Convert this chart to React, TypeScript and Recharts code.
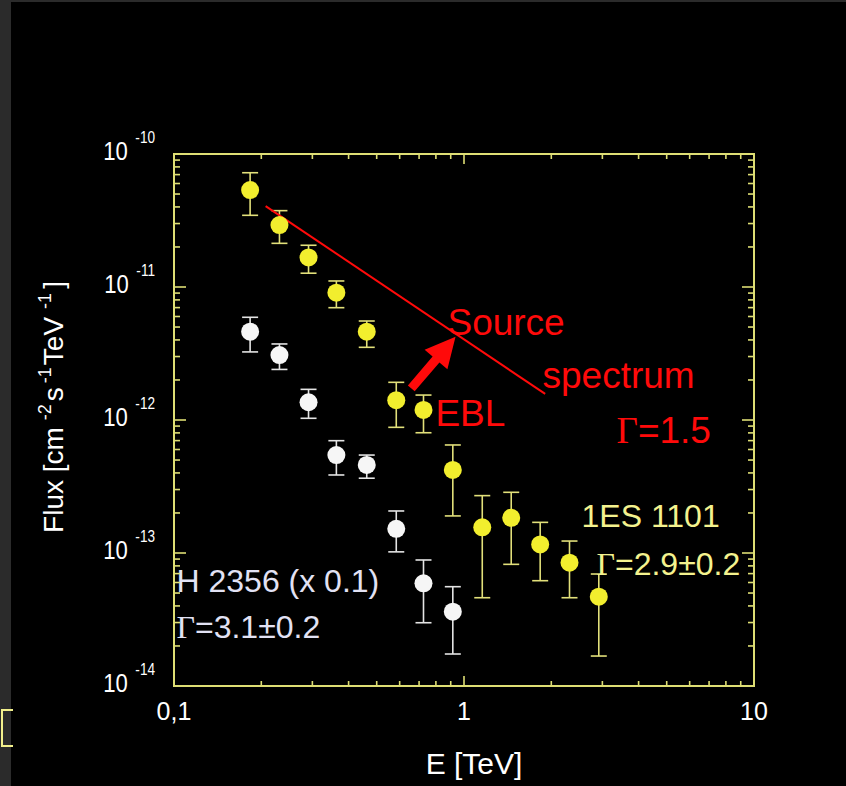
import { ScatterChart, Scatter, XAxis, YAxis, ErrorBar, ReferenceLine, ReferenceDot, ReferenceArea } from 'recharts'

// 1ES 1101 spectrum
const energy1ES = [0.183, 0.231, 0.291, 0.363, 0.462, 0.584, 0.725, 0.915, 1.156, 1.455, 1.831, 2.311, 2.916]
const flux1ES = [5.36e-11, 2.92e-11, 1.67e-11, 9.06e-12, 4.61e-12, 1.41e-12, 1.19e-12, 4.21e-13, 1.56e-13, 1.84e-13, 1.16e-13, 8.45e-14, 4.69e-14]
const flux1ESHi = [7.23e-11, 3.75e-11, 2.06e-11, 1.11e-11, 5.55e-12, 1.92e-12, 1.54e-12, 6.49e-13, 2.7e-13, 2.86e-13, 1.7e-13, 1.23e-13, 6.95e-14]
const flux1ESLo = [3.46e-11, 2.13e-11, 1.27e-11, 6.99e-12, 3.52e-12, 8.81e-13, 8.02e-13, 1.9e-13, 4.61e-14, 8.22e-14, 6.19e-14, 4.61e-14, 1.68e-14]

// H 2356 spectrum (x 0.1)
const energyH = [0.183, 0.231, 0.291, 0.363, 0.462, 0.584, 0.725, 0.915]
const fluxH = [4.61e-12, 3.08e-12, 1.36e-12, 5.45e-13, 4.59e-13, 1.52e-13, 5.92e-14, 3.62e-14]
const fluxHHi = [5.92e-12, 3.73e-12, 1.7e-12, 6.99e-13, 5.45e-13, 2.07e-13, 8.86e-14, 5.58e-14]
const fluxHLo = [3.25e-12, 2.4e-12, 1.03e-12, 3.86e-13, 3.65e-13, 1.02e-13, 2.99e-14, 1.74e-14]

// source spectrum (Gamma = 1.5) and EBL arrow, start/end
const sourceE = [0.207, 1.905]
const sourceF = [4.06e-11, 1.57e-12]
const eblE = [0.658, 0.935]
const eblF = [1.73e-12, 4.23e-12]

// text annotations (left end of baseline)
const redNotes = [
  { text: 'Source', e: 0.877, f: 4.36e-12 },
  { text: 'spectrum', e: 1.865, f: 1.74e-12 },
  { text: 'EBL', e: 0.797, f: 9.01e-13 },
  { text: '=1.5', gamma: true, e: 3.357, f: 6.72e-13 },
]
const yellowNotes = [
  { text: '1ES 1101', e: 2.542, f: 1.57e-13 },
  { text: '=2.9±0.2', gamma: true, e: 2.863, f: 6.83e-14 },
]
const whiteNotes = [
  { text: 'H 2356 (x 0.1)', e: 0.102, f: 5.09e-14 },
  { text: '=3.1±0.2', gamma: true, e: 0.102, f: 2.3e-14 },
]

const xTicks = [0.1, 0.2, 0.3, 0.4, 0.5, 0.6, 0.7, 0.8, 0.9, 1, 2, 3, 4, 5, 6, 7, 8, 9, 10]
const xTickLabels: Record<string, string> = { '0.1': '0,1', '1': '1', '10': '10' }
const yDecades = [-14, -13, -12, -11]
const yTicks = [...yDecades.flatMap((d) => [1, 2, 3, 4, 5, 6, 7, 8, 9].map((m) => m * Math.pow(10, d))), 1e-10]

const AXIS = '#dede74'
const YELLOW = '#f2ee2e'
const WHITE = '#f6f6f6'
const RED = '#ff0a0a'
const SANS = "'Liberation Sans', Arial, sans-serif"
const SERIF = "'Liberation Serif', 'Times New Roman', serif"
const PLOT_W = 580
const PLOT_H = 532

const data1ES = energy1ES.map((e, i) => ({ e, f: flux1ES[i], err: [flux1ES[i] - flux1ESLo[i], flux1ESHi[i] - flux1ES[i]] }))
const dataH = energyH.map((e, i) => ({ e, f: fluxH[i], err: [fluxH[i] - fluxHLo[i], fluxHHi[i] - fluxH[i]] }))

const isDecade = (v: number) => Math.abs(Math.log10(v) - Math.round(Math.log10(v))) < 1e-6

const XTick = (props: any) => {
  const { x, y, payload } = props
  const v = payload.value
  const major = isDecade(v)
  const len = major ? 10 : 5
  return (
    <g>
      <line x1={x} y1={y} x2={x} y2={y - len} stroke={AXIS} strokeWidth={1.6} />
      <line x1={x} y1={y - PLOT_H} x2={x} y2={y - PLOT_H + len} stroke={AXIS} strokeWidth={1.6} />
      {major && (
        <text x={x} y={y + 34} textAnchor="middle" fill="#fff" fontSize={25} fontFamily={SANS}>
          {xTickLabels[String(v)]}
        </text>
      )}
    </g>
  )
}

const YTick = (props: any) => {
  const { x, y, payload } = props
  const v = payload.value
  const major = isDecade(v)
  const len = major ? 12 : 6
  return (
    <g>
      <line x1={x} y1={y} x2={x + len} y2={y} stroke={AXIS} strokeWidth={1.6} />
      <line x1={x + PLOT_W} y1={y} x2={x + PLOT_W - len} y2={y} stroke={AXIS} strokeWidth={1.6} />
      {major && (
        <g transform={`translate(${x - 19},${y + 6}) scale(0.85,1)`}>
          <text x={0} y={0} textAnchor="end" fill="#fff" fontSize={26} fontFamily={SANS}>
            10
            <tspan dx={9} dy={-17} fontSize={16}>
              {String(Math.round(Math.log10(v)))}
            </tspan>
          </text>
        </g>
      )}
    </g>
  )
}

const Note = ({ cx, cy, text, gamma, color, size }: any) => (
  <text x={cx} y={cy} fill={color} fontSize={size} fontFamily={SANS}>
    {gamma && <tspan fontFamily={SERIF}>Γ</tspan>}
    {text}
  </text>
)

const Arrow = ({ x1, y1, x2, y2 }: any) => {
  const dx = x2 - x1
  const dy = y2 - y1
  const L = Math.hypot(dx, dy)
  const ux = dx / L
  const uy = dy / L
  const nx = -uy
  const ny = ux
  const head = 30
  const hw = 15
  const sw = 4.5
  const bx = x2 - ux * head
  const by = y2 - uy * head
  const pts = [
    [x1 + nx * sw, y1 + ny * sw],
    [bx + nx * sw, by + ny * sw],
    [bx + nx * hw, by + ny * hw],
    [x2, y2],
    [bx - nx * hw, by - ny * hw],
    [bx - nx * sw, by - ny * sw],
    [x1 - nx * sw, y1 - ny * sw],
  ]
  return <polygon points={pts.map((p) => p.join(',')).join(' ')} fill={RED} />
}

const YLabel = (props: any) => {
  const { viewBox } = props
  const cx = viewBox.x + 63
  const cy = viewBox.y + viewBox.height / 2 - 13
  return (
    <text x={cx} y={cy} transform={`rotate(-90 ${cx} ${cy})`} textAnchor="middle" fill="#fff" fontSize={28} fontFamily={SANS}>
      Flux [cm
      <tspan dx={7} dy={-12} fontSize={18}>-2</tspan>
      <tspan dx={3} dy={12}>s</tspan>
      <tspan dx={4} dy={-12} fontSize={18}>-1</tspan>
      <tspan dx={2} dy={12}>TeV</tspan>
      <tspan dx={8} dy={-12} fontSize={18}>-1</tspan>
      <tspan dx={4} dy={12}>]</tspan>
    </text>
  )
}

const XLabel = (props: any) => {
  const { viewBox } = props
  return (
    <text x={viewBox.x + viewBox.width / 2 + 10} y={viewBox.y + 88} textAnchor="middle" fill="#fff" fontSize={30} fontFamily={SANS}>
      E [TeV]
    </text>
  )
}

export default function App() {
  return (
    <div style={{ position: 'absolute', left: 0, top: 0, width: 846, height: 786, background: '#2b2b2b' }}>
      <div style={{ position: 'absolute', left: 11, top: 2, width: 835, height: 784, background: '#000' }} />
      <div
        style={{
          position: 'absolute',
          left: 1,
          top: 709,
          width: 10,
          height: 34,
          border: '2px solid #f2f08c',
          borderRight: 'none',
        }}
      />
      <div style={{ position: 'absolute', left: 0, top: 0 }}>
        <ScatterChart width={846} height={786} margin={{ top: 154, right: 92, bottom: 0, left: 0 }}>
          <XAxis
            dataKey="e"
            type="number"
            scale="log"
            domain={[0.1, 10]}
            allowDataOverflow
            ticks={xTicks}
            interval={0}
            height={100}
            tickSize={0}
            tickMargin={0}
            tickLine={false}
            axisLine={{ stroke: AXIS, strokeWidth: 2 }}
            tick={XTick}
            label={XLabel}
          />
          <YAxis
            dataKey="f"
            type="number"
            scale="log"
            domain={[1e-14, 1e-10]}
            allowDataOverflow
            ticks={yTicks}
            interval={0}
            width={174}
            tickSize={0}
            tickMargin={0}
            tickLine={false}
            axisLine={{ stroke: AXIS, strokeWidth: 2 }}
            tick={YTick}
            label={YLabel}
          />
          <ReferenceArea x1={0.1} x2={10} y1={1e-14} y2={1e-10} fill="none" stroke={AXIS} strokeWidth={2} />
          <Scatter
            data={dataH}
            fill={WHITE}
            isAnimationActive={false}
            shape={(p: any) => <circle cx={p.cx} cy={p.cy} r={9} fill={WHITE} />}
          >
            <ErrorBar dataKey="err" direction="y" width={8} stroke="#e4e4e4" strokeWidth={1.6} />
          </Scatter>
          <Scatter
            data={data1ES}
            fill={YELLOW}
            isAnimationActive={false}
            shape={(p: any) => <circle cx={p.cx} cy={p.cy} r={9} fill={YELLOW} />}
          >
            <ErrorBar dataKey="err" direction="y" width={8} stroke="#e2e07a" strokeWidth={1.6} />
          </Scatter>
          <ReferenceLine
            segment={[
              { x: sourceE[0], y: sourceF[0] },
              { x: sourceE[1], y: sourceF[1] },
            ]}
            stroke={RED}
            strokeWidth={2}
          />
          <ReferenceLine
            segment={[
              { x: eblE[0], y: eblF[0] },
              { x: eblE[1], y: eblF[1] },
            ]}
            shape={Arrow}
          />
          {redNotes.map((n) => (
            <ReferenceDot key={n.text} x={n.e} y={n.f} r={0} shape={(p: any) => <Note {...p} text={n.text} gamma={n.gamma} color={RED} size={37} />} />
          ))}
          {yellowNotes.map((n) => (
            <ReferenceDot key={n.text} x={n.e} y={n.f} r={0} shape={(p: any) => <Note {...p} text={n.text} gamma={n.gamma} color="#f4f28e" size={32} />} />
          ))}
          {whiteNotes.map((n) => (
            <ReferenceDot key={n.text} x={n.e} y={n.f} r={0} shape={(p: any) => <Note {...p} text={n.text} gamma={n.gamma} color="#e2e2f4" size={32} />} />
          ))}
        </ScatterChart>
      </div>
    </div>
  )
}
